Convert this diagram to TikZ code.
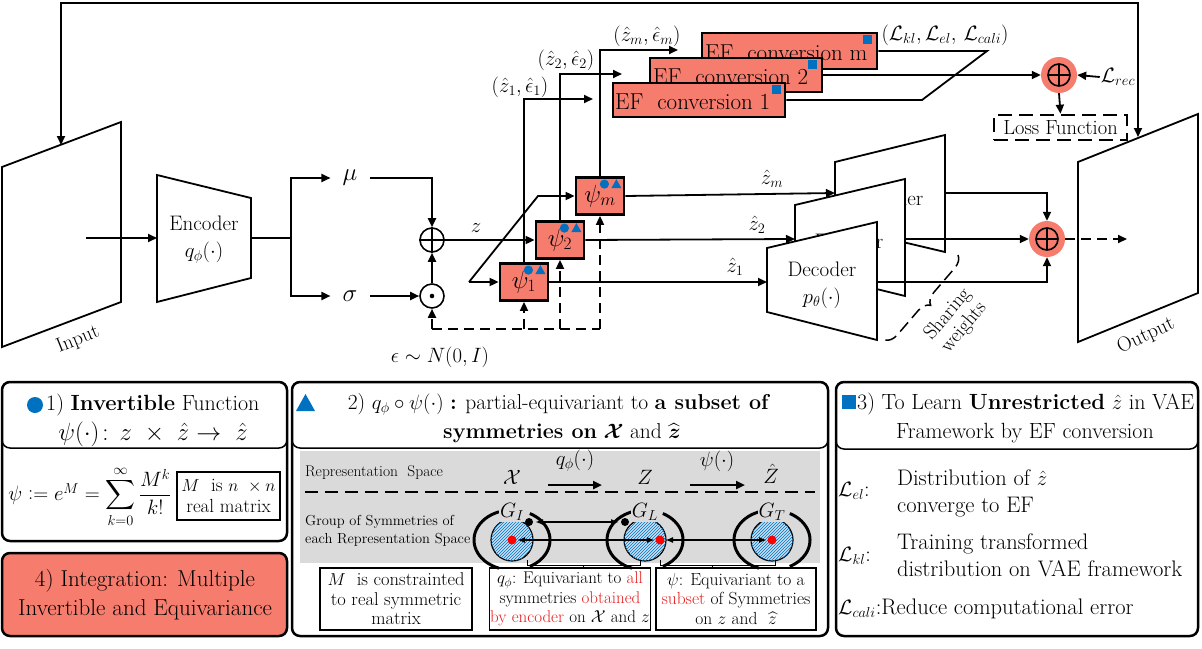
\documentclass[tikz,border=0pt]{standalone}
\usepackage{amsmath}
\usepackage{fontspec}
\usetikzlibrary{arrows.meta,decorations.pathreplacing,patterns,calc}
\definecolor{salmon}{RGB}{246,124,110}
\definecolor{iblue}{RGB}{0,112,192}
\definecolor{ired}{RGB}{230,30,30}
\definecolor{pgray}{RGB}{218,218,218}
\definecolor{hblue}{RGB}{200,225,245}
\newcommand\fsz[2]{\fontsize{#1}{#2}\selectfont}
\begin{document}
\begin{tikzpicture}[x=1pt,y=-1pt,
  ln/.style={line width=1.8pt},
  ar/.style={line width=1.8pt,-{Triangle[length=9pt,width=8pt]}},
  dsh/.style={dash pattern=on 10pt off 6pt},
  psibox/.style={draw,line width=2.8pt,fill=salmon,minimum width=48pt,minimum height=37pt,inner sep=0pt,font=\fsz{27}{27}},
  efbox/.style={draw,line width=2.8pt,fill=salmon,minimum height=34pt,inner sep=0pt},
  eftext/.style={anchor=west,inner sep=0pt,font=\fsz{23}{23}},
  lbl/.style={inner sep=1pt,font=\fsz{22}{22}},
  panel/.style={line width=2.5pt,rounded corners=8pt},
  hdr/.style={line width=1.5pt,rounded corners=8pt},
  ptxt/.style={align=center,inner sep=0pt,font=\fsz{23}{29}},
  sbox/.style={draw,line width=1.2pt,align=center,inner sep=1pt,font=\fsz{17.5}{19.5}},
  hatchc/.style={draw=black,line width=1.2pt,fill=hblue,postaction={pattern=north east lines,pattern color=iblue}},
  plusc/.style={circle,draw,line width=1.6pt,minimum size=24pt,inner sep=0pt},
  bigc/.style={circle,fill=salmon,minimum size=36pt,inner sep=0pt},
  ]
\useasboundingbox (0,0) rectangle (1202,648);

% ---------------- Input / Output frames
\draw[ln,fill=white] (2,167) -- (121,122) -- (121,302) -- (2,347) -- cycle;
\node[rotate=22,font=\fsz{20}{20}] (inlbl) at (78,340) {Input};
\draw[ln,fill=white] (1078,162) -- (1198,114) -- (1198,293) -- (1078,342) -- cycle;
\node[rotate=25,font=\fsz{20.5}{20.5}] (outlbl) at (1146,336) {Output};
\coordinate (intop) at (61,145);
\coordinate (outtop) at (1138,137);
\draw[ln,{Triangle[length=9pt,width=8pt]}-{Triangle[length=9pt,width=8pt]}] (intop) -- (61,3) -- (1138,3) -- (outtop);

% ---------------- Encoder
\draw[ln] (157,175) -- (251,198) -- (251,278) -- (157,302) -- cycle;
\node[align=center,font=\fsz{21}{27}] (enc) at (204,240) {Encoder\\$q_\phi(\cdot)$};
\coordinate (inmid) at (86,238);
\coordinate (encL) at (157,238);
\coordinate (encR) at (251,238);
\coordinate (split) at (291,238);
\draw[ar] (inmid) -- (encL);
\draw[ln] (encR) -- (split);
\node[font=\fsz{30}{30},inner xsep=12pt,inner ysep=0pt] (mu) at (350,178) {$\mu$};
\node[font=\fsz{30}{30},inner xsep=12pt,inner ysep=0pt] (sigma) at (350,296) {$\sigma$};
\draw[ar] (split) |- (mu.west);
\draw[ar] (split) |- (sigma.west);
\node[plusc] (oplus) at (432,240) {};
\draw[line width=1.6pt] (oplus.north) -- (oplus.south) (oplus.west) -- (oplus.east);
\node[plusc] (odot) at (432,296) {};
\fill (odot) circle (2.3);
\draw[ar] (mu.east) -| (oplus.north);
\draw[ar] (sigma.east) -- (odot.west);
\draw[ar] (odot.north) -- (oplus.south);
\node[font=\fsz{22}{22}] (eps) at (440,357) {$\epsilon\sim N(0,I)$};

% ---------------- psi boxes
\node[psibox] (p1) at (524,282) {$\psi_1$};
\node[psibox] (p2) at (560,240) {$\psi_2$};
\node[psibox] (pm) at (600,196) {$\psi_m$};
\foreach \b in {p1,p2,pm}{
  \fill[iblue] ($(\b.north east)+(-21,8)$) circle (4.6);
  \fill[iblue] ($(\b.north east)+(-14,12)$) -- ($(\b.north east)+(-4,12)$) -- ($(\b.north east)+(-9,3)$) -- cycle;
}
\coordinate (d0) at (432,329);
\draw[ln,dsh] (d0) -- (pm.south |- d0);
\draw[ar,dsh] (d0) -- (odot.south);
\draw[ar,dsh] (p1.south |- d0) -- (p1.south);
\draw[ar,dsh] (p2.south |- d0) -- (p2.south);
\draw[ar,dsh] (pm.south |- d0) -- (pm.south);
\draw[ar] (oplus.east) -- (p2.west);
\node[font=\fsz{22}{22}] (zl) at (476,228) {$z$};
\coordinate (fork) at (469,282);
\coordinate (bend) at (538,196);
\draw[ar] (fork) -- (p1.west);
\draw[ar] (fork) -- (bend) -- (pm.west);

% ---------------- to EF conversion
\coordinate (e1in) at (593,99);
\coordinate (e2in) at (622,74);
\coordinate (emin) at (678,50);
\draw[ar] (p1.north) |- (e1in);
\draw[ar] (p2.north) |- (e2in);
\draw[ar] (pm.north) |- (emin);
\node[lbl] (l1) at (520,87) {$(\hat z_1,\hat\epsilon_1)$};
\node[lbl] (l2) at (566,60) {$(\hat z_2,\hat\epsilon_2)$};
\node[lbl] (lm) at (647,36) {$(\hat z_m,\hat\epsilon_m)$};

\node[efbox,minimum width=175pt,minimum height=36pt] (efm) at (789.5,51) {};
\node[eftext] (efmt) at (705,53) {EF\ \ conversion m};
\fill[iblue] (863,35) rectangle (872,44);
\node[efbox,minimum width=172pt] (ef2) at (736,75) {};
\node[eftext] (ef2t) at (653,77) {EF\ \ conversion 2};
\fill[iblue] (808,60) rectangle (817,69);
\node[efbox,minimum width=172pt] (ef1) at (699,100) {};
\node[eftext] (ef1t) at (615,102) {EF\ \ conversion 1};
\fill[iblue] (772,85) rectangle (781,94);
\node[inner sep=1pt,font=\fsz{21}{21}] (lset) at (945,35) {$(\mathcal{L}_{kl},\mathcal{L}_{el},\,\mathcal{L}_{cali})$};

\node[bigc] (lossplus) at (1059,75) {};
\draw[line width=1.6pt] (lossplus) circle (11) ($(lossplus)+(0,-11)$) -- ($(lossplus)+(0,11)$) ($(lossplus)+(-11,0)$) -- ($(lossplus)+(11,0)$);
\coordinate (pa) at (922,100);
\coordinate (pb) at (987,51);
\draw[ln] (ef1.east) -- (pa) -- (pb) -- (efm.east);
\draw[ar] (ef2.east) -- (lossplus.west);
\node[font=\fsz{22}{22},inner sep=1pt] (lrec) at (1118,77) {$\mathcal{L}_{rec}$};
\draw[ar] (lrec.west) -- (lossplus.east);
\node[draw,line width=2.6pt,dash pattern=on 14pt off 7pt,minimum width=133pt,minimum height=25pt,inner sep=0pt,font=\fsz{20.5}{20.5}] (loss) at (1060.5,127.5) {Loss Function};
\draw[ar] (lossplus.south) -- (loss.north);

% ---------------- Decoders
\draw[ln,fill=white] (835,162) -- (945,135) -- (945,252) -- (835,226) -- cycle;
\node[font=\fsz{21}{21}] (decBt) at (889,198) {Decoder};
\draw[ln,fill=white] (795,205) -- (905,179) -- (905,296) -- (795,269) -- cycle;
\node[font=\fsz{21}{21}] (decMt) at (849,241) {Decoder};
\draw[ln,fill=white] (767,248) -- (877,222) -- (877,340) -- (767,312) -- cycle;
\node[align=center,font=\fsz{21}{27}] (decFt) at (822,285) {Decoder\\$p_\theta(\cdot)$};
\coordinate (decFin) at (767,282);
\coordinate (decMin) at (795,239);
\coordinate (decBin) at (835,193);
\coordinate (decFout) at (877,282);
\coordinate (decMout) at (905,239);
\coordinate (decBout) at (945,193);
\draw[ar] (p1.east) -- (decFin);
\draw[ar] (p2.east) -- (decMin);
\draw[ar] (pm.east) -- (decBin);
\node[lbl] (zh1) at (735,267) {$\hat z_1$};
\node[lbl] (zh2) at (757,225) {$\hat z_2$};
\node[lbl] (zhm) at (772,179) {$\hat z_m$};

\node[bigc] (bigplus) at (1047,239) {};
\draw[line width=1.6pt] (bigplus) circle (11) ($(bigplus)+(0,-11)$) -- ($(bigplus)+(0,11)$) ($(bigplus)+(-11,0)$) -- ($(bigplus)+(11,0)$);
\draw[ar] (decBout) -| (bigplus.north);
\draw[ar] (decMout) -- (bigplus.west);
\draw[ar] (decFout) -| (bigplus.south);
\coordinate (outin) at (1127,239);
\draw[ar,dsh] (bigplus.east) -- (outin);

\draw[line width=1.5pt,dash pattern=on 12pt off 6pt,decorate,decoration={brace,amplitude=12pt}] (958,255) -- (885,340);
\node[rotate=50,align=center,font=\fsz{20}{21}] (share) at (956,321) {Sharing\\weights};

% ---------------- Panel 1
\draw[panel] (2,382) rectangle (287,541);
\draw[hdr] (2,382) rectangle (287,448);
\fill[iblue] (35,405) circle (8);
\node[anchor=west,inner sep=0pt,font=\fsz{22}{22}] (p1h) at (46,405) {1) \textbf{Invertible} Function};
\node[inner sep=0pt,font=\fsz{24}{24}] (p1h2) at (153,434) {$\psi(\cdot)\!:\, z\ \times\ \hat z\to\ \hat z$};
\node[inner sep=0pt,font=\fsz{21}{21}] (form) at (90,497) {$\psi \mathrel{\mathop:}= e^{M} = \displaystyle\sum_{k=0}^{\infty}\frac{M^k}{k!}$};
\node[sbox,minimum width=103pt,minimum height=48pt,font=\fsz{19}{21}] (mbox) at (228.5,496) {$M$\ \ is $n\ \times n$\\real matrix};
\draw[panel,fill=salmon] (2,553) rectangle (287,636);
\node[ptxt] (p4t) at (145,595) {4) Integration: Multiple\\Invertible and Equivariance};

% ---------------- Panel 2
\draw[panel] (292,382) rectangle (828,636);
\draw[hdr] (292,382) rectangle (828,448);
\fill[iblue] (296,411) -- (315,411) -- (305.5,394) -- cycle;
\node[inner sep=0pt,font=\fsz{21.5}{21.5}] (p2h) at (559,404) {2) $q_\phi\circ\psi(\cdot)$ \textbf{:} partial-equivariant to \textbf{a subset of}};
\node[inner sep=0pt,font=\fsz{21.5}{21.5}] (p2h2) at (562,433) {\textbf{symmetries on} $\boldsymbol{\mathcal{X}}$ and $\widehat{\boldsymbol{z}}$};
\fill[pgray] (300,451) rectangle (820,563);
\node[anchor=west,inner sep=0pt,font=\fsz{15.5}{15.5}] (rs) at (305,473) {Representation\ \ Space};
\draw[line width=1.8pt,dash pattern=on 13pt off 7pt] (305,492) -- (815,492);
\node[font=\fsz{22}{22}] (sx) at (512,477) {$\mathcal{X}$};
\node[font=\fsz{22}{22}] (sz) at (645,477) {$Z$};
\node[font=\fsz{22}{22}] (szh) at (771,474) {$\hat Z$};
\draw[line width=2.4pt,-{Triangle[length=9pt,width=8pt]}] (548,485) -- (602,485);
\draw[line width=2.4pt,-{Triangle[length=9pt,width=8pt]}] (690,485) -- (745,485);
\node[font=\fsz{20}{20}] (qlab) at (575,461) {$q_\phi(\cdot)$};
\node[font=\fsz{20}{20}] (plab) at (717,461) {$\psi(\cdot)$};
\node[anchor=west,align=left,inner sep=0pt,font=\fsz{14.5}{18}] (gs) at (305,531) {Group\ of Symmetries\ of\\each Representation\ Space};
\foreach \c/\n in {512/I,645/L,772/T}{
  \draw[line width=3pt] ($(\c,540)+(110:38 and 30)$) arc[start angle=110,end angle=250,x radius=38,y radius=30];
  \draw[line width=3pt] ($(\c,540)+(-62:38 and 30)$) arc[start angle=-62,end angle=62,x radius=38,y radius=30];
  \draw[hatchc] (\c,540) circle (21);
  \node[font=\fsz{22}{22},fill=pgray,inner sep=1pt] at (\c,512) {$G_\n$};
}
\fill[red] (512,540) circle (4.5);
\fill[red] (660,540) circle (4.5);
\fill[red] (772,540) circle (4.5);
\draw[line width=2pt,{Latex[length=8pt]}-{Latex[length=8pt]}] (535,522) -- (619,522);
\fill (529,522) circle (4);
\fill (625,522) circle (4);
\draw[line width=2pt,{Latex[length=8pt]}-{Latex[length=8pt]}] (517,540) -- (655,540);
\draw[line width=2pt,{Latex[length=8pt]}-{Latex[length=8pt]}] (665,540) -- (767,540);
\draw[line width=0.8pt] (527,560) -- (527,565) -- (640,565) -- (640,560) (583,565) -- (583,569);
\draw[line width=0.8pt] (660,560) -- (660,565) -- (775,565) -- (775,560) (712,565) -- (712,569);
\node[sbox,minimum width=152pt,minimum height=62pt,font=\fsz{18.5}{19.5}] (ba) at (396,599) {$M$\ \ is constrainted\\to real symmetric\\matrix};
\node[sbox,minimum width=160pt,minimum height=62pt,font=\fsz{17}{19.5}] (bb) at (570,599) {$q_\phi$: Equivariant\ to \textcolor{ired}{all}\\symmetries \textcolor{ired}{obtained}\\\textcolor{ired}{by encoder} on $\mathcal{X}$ and\ $z$};
\node[sbox,minimum width=160pt,minimum height=62pt] (bc) at (736,599) {$\psi$: Equivariant\ to a\\\textcolor{ired}{subset} of Symmetries\\on $z$ and\ \ $\widehat{z}$};

% ---------------- Panel 3
\draw[panel] (836,382) rectangle (1198,636);
\draw[hdr] (836,382) rectangle (1198,449);
\fill[iblue] (842,395) rectangle (856,409);
\node[anchor=west,inner sep=0pt,font=\fsz{22}{22}] (p3h) at (857,404) {3) To Learn \textbf{Unrestricted} $\hat z$ in VAE};
\node[inner sep=0pt,font=\fsz{22}{22}] (p3h2) at (1025,433) {Framework by EF\ conversion};
\node[anchor=west,inner sep=0pt,font=\fsz{22}{22}] (lel) at (838,491) {$\mathcal{L}_{el}$:};
\node[anchor=west,align=left,inner sep=0pt,font=\fsz{22.5}{27}] (lelt) at (897,493) {Distribution\ of $\hat z$\\converge to EF};
\node[anchor=west,inner sep=0pt,font=\fsz{22}{22}] (lkl) at (838,556) {$\mathcal{L}_{kl}$:};
\node[anchor=west,align=left,inner sep=0pt,font=\fsz{22.5}{27}] (lklt) at (897,555) {Training transformed\\distribution on VAE\ framework};
\node[anchor=west,inner sep=0pt,font=\fsz{22.5}{22}] (lcal) at (838,609) {$\mathcal{L}_{cali}$:Reduce computational error};
\end{tikzpicture}
\end{document}
